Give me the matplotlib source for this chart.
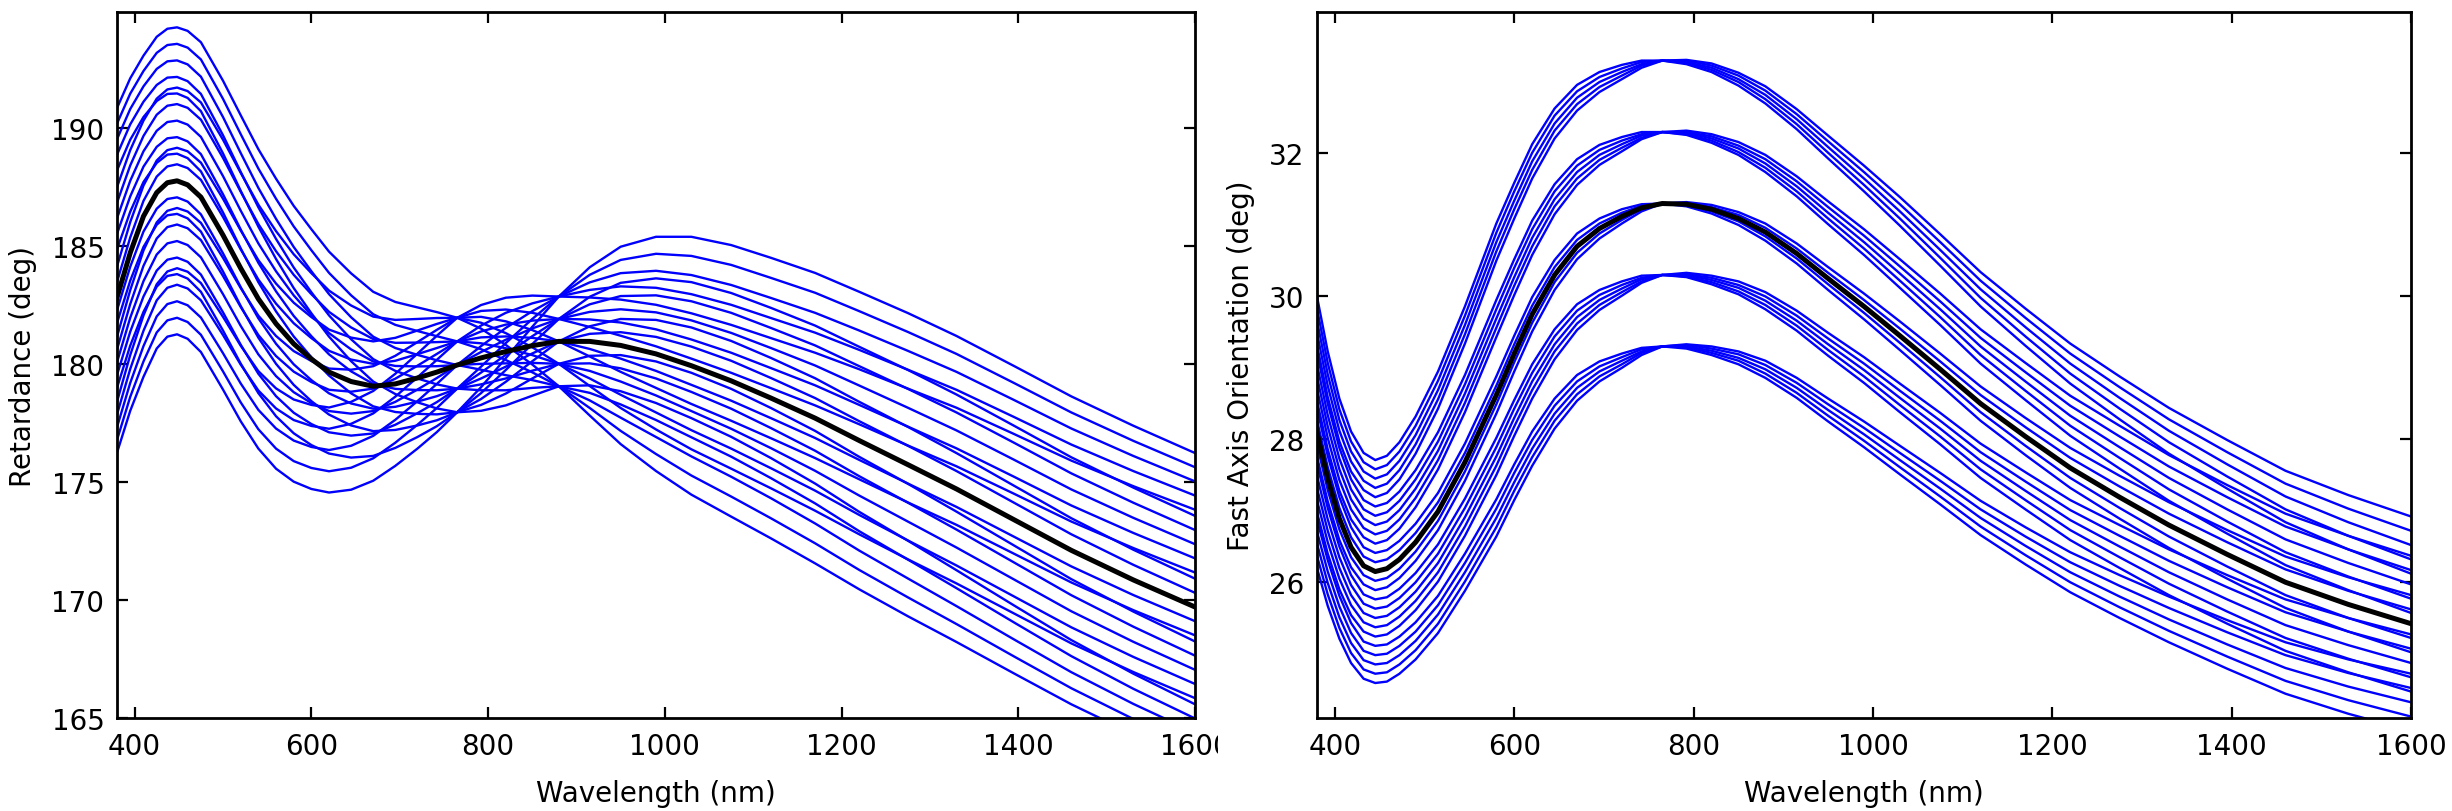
import matplotlib
matplotlib.use('Agg')
import matplotlib.pyplot as plt
from matplotlib.patches import Rectangle

# ---------------- left panel: retardance ----------------
wl_ret = [380, 395, 410, 425, 437, 448, 460, 475, 500, 520, 540, 560, 580, 600,
          620, 645, 670, 695, 720, 742, 765, 792, 820, 850, 880, 915, 950, 990,
          1030, 1075, 1120, 1170, 1220, 1275, 1330, 1395, 1460, 1530, 1600]

retardance_nominal = [182.80, 184.70, 186.25, 187.25, 187.67, 187.75, 187.58, 187.06, 185.45, 184.05,
                      182.75, 181.70, 180.85, 180.20, 179.65, 179.25, 179.05, 179.15, 179.40, 179.65,
                      179.95, 180.25, 180.52, 180.77, 180.95, 180.95, 180.78, 180.42, 179.92, 179.28,
                      178.55, 177.70, 176.75, 175.73, 174.70, 173.40, 172.10, 170.85, 169.70]

retardance_curves = [
    [178.39, 180.37, 182.05, 183.37, 183.91, 184.05, 183.90, 183.42, 181.99, 180.77, 179.69, 178.96, 178.49, 178.26, 178.15, 178.39, 178.85, 179.58, 180.43, 181.19, 181.95, 182.49, 182.80, 182.89, 182.85, 182.81, 182.72, 182.50, 182.14, 181.65, 181.09, 180.47, 179.77, 178.95, 178.14, 177.03, 175.90, 174.82, 173.82],
    [181.14, 183.12, 184.80, 185.99, 186.48, 186.60, 186.45, 185.97, 184.49, 183.21, 182.04, 181.18, 180.54, 180.12, 179.80, 179.75, 179.90, 180.34, 180.92, 181.44, 181.95, 182.24, 182.30, 182.16, 181.90, 181.56, 181.19, 180.74, 180.22, 179.62, 178.97, 178.24, 177.44, 176.54, 175.66, 174.50, 173.32, 172.20, 171.16],
    [184.12, 186.00, 187.55, 188.61, 189.05, 189.15, 189.00, 188.52, 186.99, 185.65, 184.39, 183.40, 182.59, 181.98, 181.45, 181.11, 180.95, 181.10, 181.41, 181.69, 181.95, 181.99, 181.80, 181.43, 180.95, 180.31, 179.66, 178.98, 178.30, 177.59, 176.85, 176.01, 175.11, 174.13, 173.18, 171.96, 170.74, 169.57, 168.50],
    [187.48, 189.05, 190.30, 191.23, 191.62, 191.70, 191.55, 191.07, 189.49, 188.09, 186.74, 185.62, 184.64, 183.84, 183.10, 182.47, 182.00, 181.86, 181.90, 181.94, 181.95, 181.74, 181.30, 180.70, 180.00, 179.06, 178.13, 177.22, 176.38, 175.56, 174.73, 173.78, 172.78, 171.72, 170.70, 169.43, 168.16, 166.95, 165.84],
    [190.83, 192.09, 193.05, 193.85, 194.19, 194.25, 194.10, 193.62, 191.99, 190.53, 189.09, 187.84, 186.69, 185.70, 184.75, 183.83, 183.05, 182.62, 182.39, 182.19, 181.95, 181.49, 180.80, 179.97, 179.05, 177.81, 176.60, 175.46, 174.46, 173.53, 172.61, 171.55, 170.45, 169.31, 168.22, 166.89, 165.58, 164.32, 163.18],
    [177.85, 179.78, 181.40, 182.69, 183.22, 183.35, 183.19, 182.69, 181.22, 179.97, 178.87, 178.11, 177.62, 177.37, 177.25, 177.46, 177.90, 178.61, 179.43, 180.17, 180.95, 181.62, 182.16, 182.56, 182.85, 183.13, 183.28, 183.22, 182.95, 182.50, 181.94, 181.32, 180.59, 179.75, 178.90, 177.75, 176.58, 175.46, 174.42],
    [180.60, 182.53, 184.15, 185.31, 185.79, 185.90, 185.74, 185.24, 183.72, 182.41, 181.22, 180.33, 179.67, 179.23, 178.90, 178.82, 178.95, 179.37, 179.92, 180.42, 180.95, 181.37, 181.66, 181.83, 181.90, 181.88, 181.75, 181.46, 181.03, 180.47, 179.82, 179.09, 178.26, 177.34, 176.42, 175.22, 174.00, 172.84, 171.76],
    [183.46, 185.35, 186.90, 187.93, 188.36, 188.45, 188.29, 187.79, 186.22, 184.85, 183.57, 182.55, 181.72, 181.09, 180.55, 180.18, 180.00, 180.13, 180.41, 180.67, 180.95, 181.12, 181.16, 181.10, 180.95, 180.63, 180.22, 179.70, 179.11, 178.44, 177.70, 176.86, 175.93, 174.93, 173.94, 172.68, 171.42, 170.21, 169.10],
    [186.82, 188.40, 189.65, 190.55, 190.93, 191.00, 190.84, 190.34, 188.72, 187.29, 185.92, 184.77, 183.77, 182.95, 182.20, 181.54, 181.05, 180.89, 180.90, 180.92, 180.95, 180.87, 180.66, 180.37, 180.00, 179.38, 178.69, 177.94, 177.19, 176.41, 175.58, 174.63, 173.60, 172.52, 171.46, 170.15, 168.84, 167.59, 166.44],
    [190.17, 191.44, 192.40, 193.17, 193.50, 193.55, 193.39, 192.89, 191.22, 189.73, 188.27, 186.99, 185.82, 184.81, 183.85, 182.90, 182.10, 181.65, 181.39, 181.17, 180.95, 180.62, 180.16, 179.64, 179.05, 178.13, 177.16, 176.18, 175.27, 174.38, 173.46, 172.40, 171.27, 170.11, 168.98, 167.61, 166.26, 164.96, 163.78],
    [177.31, 179.19, 180.75, 182.01, 182.53, 182.65, 182.48, 181.96, 180.45, 179.17, 178.05, 177.26, 176.75, 176.48, 176.35, 176.53, 176.95, 177.63, 178.42, 179.15, 179.95, 180.75, 181.52, 182.23, 182.85, 183.45, 183.84, 183.94, 183.76, 183.34, 182.79, 182.16, 181.41, 180.55, 179.66, 178.47, 177.26, 176.10, 175.02],
    [180.06, 181.95, 183.50, 184.63, 185.10, 185.20, 185.03, 184.51, 182.95, 181.61, 180.40, 179.48, 178.80, 178.34, 178.00, 177.89, 178.00, 178.39, 178.91, 179.40, 179.95, 180.50, 181.02, 181.50, 181.90, 182.20, 182.31, 182.18, 181.84, 181.31, 180.67, 179.93, 179.08, 178.14, 177.18, 175.94, 174.68, 173.48, 172.36],
    [186.16, 187.75, 189.00, 189.87, 190.24, 190.30, 190.13, 189.61, 187.95, 186.49, 185.10, 183.92, 182.90, 182.06, 181.30, 180.61, 180.10, 179.91, 179.89, 179.90, 179.95, 180.00, 180.02, 180.04, 180.00, 179.70, 179.25, 178.66, 178.00, 177.25, 176.43, 175.47, 174.42, 173.32, 172.22, 170.87, 169.52, 168.23, 167.04],
    [189.51, 190.79, 191.75, 192.49, 192.81, 192.85, 192.68, 192.16, 190.45, 188.93, 187.45, 186.14, 184.95, 183.92, 182.95, 181.97, 181.15, 180.67, 180.38, 180.15, 179.95, 179.75, 179.52, 179.31, 179.05, 178.45, 177.72, 176.90, 176.08, 175.22, 174.31, 173.24, 172.09, 170.91, 169.74, 168.33, 166.94, 165.60, 164.38],
    [176.77, 178.60, 180.10, 181.33, 181.84, 181.95, 181.77, 181.23, 179.68, 178.37, 177.23, 176.41, 175.88, 175.59, 175.45, 175.60, 176.00, 176.66, 177.42, 178.13, 178.95, 179.88, 180.88, 181.90, 182.85, 183.77, 184.40, 184.66, 184.57, 184.19, 183.64, 183.01, 182.23, 181.35, 180.42, 179.19, 177.94, 176.74, 175.62],
    [179.52, 181.36, 182.85, 183.95, 184.41, 184.50, 184.32, 183.78, 182.18, 180.81, 179.58, 178.63, 177.93, 177.45, 177.10, 176.96, 177.05, 177.42, 177.91, 178.38, 178.95, 179.63, 180.38, 181.17, 181.90, 182.52, 182.87, 182.90, 182.65, 182.16, 181.52, 180.78, 179.90, 178.94, 177.94, 176.66, 175.36, 174.12, 172.96],
    [182.26, 184.11, 185.60, 186.57, 186.98, 187.05, 186.87, 186.33, 184.68, 183.25, 181.93, 180.85, 179.98, 179.31, 178.75, 178.32, 178.10, 178.18, 178.40, 178.63, 178.95, 179.38, 179.88, 180.44, 180.95, 181.27, 181.34, 181.14, 180.73, 180.13, 179.40, 178.55, 177.57, 176.53, 175.46, 174.12, 172.78, 171.49, 170.30],
    [185.50, 187.09, 188.35, 189.19, 189.55, 189.60, 189.42, 188.88, 187.18, 185.69, 184.28, 183.07, 182.03, 181.17, 180.40, 179.68, 179.15, 178.94, 178.89, 178.88, 178.95, 179.13, 179.38, 179.71, 180.00, 180.02, 179.81, 179.38, 178.81, 178.10, 177.28, 176.32, 175.24, 174.12, 172.98, 171.59, 170.20, 168.87, 167.64],
    [188.85, 190.14, 191.10, 191.81, 192.12, 192.15, 191.97, 191.43, 189.68, 188.13, 186.63, 185.29, 184.08, 183.03, 182.05, 181.04, 180.20, 179.70, 179.38, 179.13, 178.95, 178.88, 178.88, 178.98, 179.05, 178.77, 178.28, 177.62, 176.89, 176.07, 175.16, 174.09, 172.91, 171.71, 170.50, 169.05, 167.62, 166.24, 164.98],
    [176.23, 178.01, 179.45, 180.65, 181.15, 181.25, 181.06, 180.50, 178.91, 177.57, 176.41, 175.56, 175.01, 174.70, 174.55, 174.67, 175.05, 175.68, 176.41, 177.11, 177.95, 179.01, 180.24, 181.57, 182.85, 184.09, 184.96, 185.38, 185.38, 185.03, 184.49, 183.85, 183.05, 182.15, 181.18, 179.91, 178.62, 177.38, 176.22],
    [178.98, 180.77, 182.20, 183.27, 183.72, 183.80, 183.61, 183.05, 181.41, 180.01, 178.76, 177.78, 177.06, 176.56, 176.20, 176.03, 176.10, 176.44, 176.90, 177.36, 177.95, 178.76, 179.74, 180.84, 181.90, 182.84, 183.43, 183.62, 183.46, 183.00, 182.37, 181.62, 180.72, 179.74, 178.70, 177.38, 176.04, 174.76, 173.56],
    [181.72, 183.52, 184.95, 185.89, 186.29, 186.35, 186.16, 185.60, 183.91, 182.45, 181.11, 180.00, 179.11, 178.42, 177.85, 177.39, 177.15, 177.20, 177.39, 177.61, 177.95, 178.51, 179.24, 180.11, 180.95, 181.59, 181.90, 181.86, 181.54, 180.97, 180.25, 179.39, 178.39, 177.33, 176.22, 174.84, 173.46, 172.13, 170.90],
    [184.84, 186.44, 187.70, 188.51, 188.86, 188.90, 188.71, 188.15, 186.41, 184.89, 183.46, 182.22, 181.16, 180.28, 179.50, 178.75, 178.20, 177.96, 177.88, 177.86, 177.95, 178.26, 178.74, 179.38, 180.00, 180.34, 180.37, 180.10, 179.62, 178.94, 178.13, 177.16, 176.06, 174.92, 173.74, 172.31, 170.88, 169.51, 168.24],
    [188.19, 189.49, 190.45, 191.13, 191.43, 191.45, 191.26, 190.70, 188.91, 187.33, 185.81, 184.44, 183.21, 182.14, 181.15, 180.11, 179.25, 178.72, 178.37, 178.11, 177.95, 178.01, 178.24, 178.65, 179.05, 179.09, 178.84, 178.34, 177.70, 176.91, 176.01, 174.93, 173.73, 172.51, 171.26, 169.77, 168.30, 166.88, 165.58],
]

# ---------------- right panel: fast axis orientation ----------------
wl_fa = [380, 392, 405, 418, 432, 445, 458, 472, 490, 515, 545, 580, 600, 620,
         645, 670, 695, 720, 742, 765, 792, 820, 850, 880, 915, 950, 990, 1030,
         1075, 1120, 1170, 1220, 1275, 1330, 1395, 1460, 1530, 1600]

fast_axis_nominal = [28.10, 27.45, 26.89, 26.49, 26.23, 26.15, 26.19, 26.32, 26.56, 26.99,
                     27.68, 28.62, 29.20, 29.75, 30.30, 30.70, 30.95, 31.12, 31.24, 31.30,
                     31.29, 31.22, 31.09, 30.90, 30.60, 30.25, 29.86, 29.45, 28.98, 28.50,
                     28.04, 27.60, 27.19, 26.80, 26.39, 26.00, 25.69, 25.42]

fast_axis_curves = [
    [30.00, 29.23, 28.57, 28.11, 27.81, 27.71, 27.77, 27.96, 28.32, 28.95, 29.86, 31.02, 31.59, 32.13, 32.63, 32.96, 33.14, 33.24, 33.30, 33.30, 33.25, 33.14, 32.95, 32.70, 32.34, 31.93, 31.47, 30.99, 30.43, 29.86, 29.31, 28.78, 28.28, 27.80, 27.31, 26.84, 26.46, 26.12],
    [29.83, 29.07, 28.42, 27.97, 27.68, 27.58, 27.64, 27.83, 28.19, 28.82, 29.73, 30.89, 31.47, 32.01, 32.53, 32.87, 33.07, 33.19, 33.28, 33.30, 33.27, 33.17, 33.00, 32.76, 32.41, 32.01, 31.56, 31.09, 30.54, 29.98, 29.44, 28.92, 28.43, 27.96, 27.48, 27.02, 26.65, 26.32],
    [29.66, 28.91, 28.27, 27.83, 27.55, 27.45, 27.51, 27.70, 28.06, 28.69, 29.60, 30.76, 31.34, 31.89, 32.42, 32.78, 33.00, 33.14, 33.25, 33.30, 33.28, 33.20, 33.04, 32.82, 32.48, 32.09, 31.65, 31.19, 30.65, 30.10, 29.57, 29.06, 28.58, 28.12, 27.65, 27.20, 26.84, 26.52],
    [29.49, 28.75, 28.12, 27.69, 27.42, 27.32, 27.38, 27.57, 27.93, 28.56, 29.47, 30.63, 31.22, 31.77, 32.32, 32.69, 32.93, 33.09, 33.23, 33.30, 33.30, 33.23, 33.09, 32.88, 32.55, 32.17, 31.74, 31.29, 30.76, 30.22, 29.70, 29.20, 28.73, 28.28, 27.82, 27.38, 27.03, 26.72],
    [29.32, 28.59, 27.97, 27.55, 27.29, 27.19, 27.25, 27.44, 27.80, 28.43, 29.34, 30.50, 31.09, 31.65, 32.21, 32.60, 32.86, 33.04, 33.20, 33.30, 33.31, 33.26, 33.13, 32.94, 32.62, 32.25, 31.83, 31.39, 30.87, 30.34, 29.83, 29.34, 28.88, 28.44, 27.99, 27.56, 27.22, 26.92],
    [29.22, 28.50, 27.88, 27.44, 27.15, 27.06, 27.11, 27.27, 27.57, 28.10, 28.90, 29.95, 30.52, 31.06, 31.57, 31.92, 32.12, 32.23, 32.30, 32.30, 32.26, 32.15, 31.98, 31.74, 31.40, 31.01, 30.58, 30.12, 29.60, 29.06, 28.55, 28.05, 27.59, 27.14, 26.68, 26.24, 25.89, 25.57],
    [29.05, 28.34, 27.73, 27.30, 27.02, 26.93, 26.98, 27.14, 27.44, 27.97, 28.77, 29.82, 30.40, 30.94, 31.47, 31.83, 32.05, 32.18, 32.27, 32.30, 32.27, 32.18, 32.02, 31.80, 31.47, 31.09, 30.67, 30.22, 29.71, 29.18, 28.68, 28.19, 27.74, 27.30, 26.85, 26.42, 26.08, 25.77],
    [28.88, 28.18, 27.58, 27.16, 26.89, 26.80, 26.85, 27.01, 27.31, 27.84, 28.64, 29.69, 30.27, 30.82, 31.36, 31.74, 31.98, 32.13, 32.25, 32.30, 32.29, 32.21, 32.07, 31.86, 31.54, 31.17, 30.76, 30.32, 29.82, 29.30, 28.81, 28.33, 27.89, 27.46, 27.02, 26.60, 26.27, 25.97],
    [28.71, 28.02, 27.43, 27.02, 26.76, 26.67, 26.72, 26.88, 27.18, 27.71, 28.51, 29.56, 30.15, 30.70, 31.26, 31.65, 31.91, 32.08, 32.22, 32.30, 32.30, 32.24, 32.11, 31.92, 31.61, 31.25, 30.85, 30.42, 29.93, 29.42, 28.94, 28.47, 28.04, 27.62, 27.19, 26.78, 26.46, 26.17],
    [28.54, 27.86, 27.28, 26.88, 26.63, 26.54, 26.59, 26.75, 27.05, 27.58, 28.38, 29.43, 30.02, 30.58, 31.15, 31.56, 31.84, 32.03, 32.20, 32.30, 32.32, 32.27, 32.16, 31.98, 31.68, 31.33, 30.94, 30.52, 30.04, 29.54, 29.07, 28.61, 28.19, 27.78, 27.36, 26.96, 26.65, 26.37],
    [28.44, 27.77, 27.19, 26.77, 26.49, 26.41, 26.45, 26.58, 26.82, 27.25, 27.94, 28.88, 29.45, 29.99, 30.51, 30.88, 31.09, 31.22, 31.29, 31.30, 31.26, 31.16, 31.00, 30.78, 30.46, 30.09, 29.68, 29.25, 28.76, 28.26, 27.78, 27.32, 26.89, 26.48, 26.05, 25.64, 25.31, 25.02],
    [28.27, 27.61, 27.04, 26.63, 26.36, 26.28, 26.32, 26.45, 26.69, 27.12, 27.81, 28.75, 29.33, 29.87, 30.41, 30.79, 31.02, 31.17, 31.27, 31.30, 31.28, 31.19, 31.05, 30.84, 30.53, 30.17, 29.77, 29.35, 28.87, 28.38, 27.91, 27.46, 27.04, 26.64, 26.22, 25.82, 25.50, 25.22],
    [27.93, 27.29, 26.74, 26.35, 26.10, 26.02, 26.06, 26.19, 26.43, 26.86, 27.55, 28.49, 29.08, 29.63, 30.20, 30.61, 30.88, 31.07, 31.22, 31.30, 31.31, 31.25, 31.14, 30.96, 30.67, 30.33, 29.95, 29.55, 29.09, 28.62, 28.17, 27.74, 27.34, 26.96, 26.56, 26.18, 25.88, 25.62],
    [27.76, 27.13, 26.59, 26.21, 25.97, 25.89, 25.93, 26.06, 26.30, 26.73, 27.42, 28.36, 28.95, 29.51, 30.09, 30.52, 30.81, 31.02, 31.19, 31.30, 31.32, 31.28, 31.18, 31.02, 30.74, 30.41, 30.04, 29.65, 29.20, 28.74, 28.30, 27.88, 27.49, 27.12, 26.73, 26.36, 26.07, 25.82],
    [27.66, 27.04, 26.50, 26.10, 25.83, 25.76, 25.79, 25.91, 26.13, 26.53, 27.17, 28.02, 28.55, 29.05, 29.54, 29.89, 30.09, 30.21, 30.29, 30.30, 30.27, 30.17, 30.03, 29.82, 29.52, 29.17, 28.79, 28.38, 27.93, 27.46, 27.02, 26.59, 26.20, 25.82, 25.42, 25.04, 24.74, 24.47],
    [27.49, 26.88, 26.35, 25.96, 25.70, 25.63, 25.66, 25.78, 26.00, 26.40, 27.04, 27.89, 28.43, 28.93, 29.44, 29.80, 30.02, 30.16, 30.26, 30.30, 30.28, 30.20, 30.07, 29.88, 29.59, 29.25, 28.88, 28.48, 28.04, 27.58, 27.15, 26.73, 26.35, 25.98, 25.59, 25.22, 24.93, 24.67],
    [27.32, 26.72, 26.20, 25.82, 25.57, 25.50, 25.53, 25.65, 25.87, 26.27, 26.91, 27.76, 28.30, 28.81, 29.33, 29.71, 29.95, 30.11, 30.24, 30.30, 30.30, 30.23, 30.12, 29.94, 29.66, 29.33, 28.97, 28.58, 28.15, 27.70, 27.28, 26.87, 26.50, 26.14, 25.76, 25.40, 25.12, 24.87],
    [27.15, 26.56, 26.05, 25.68, 25.44, 25.37, 25.40, 25.52, 25.74, 26.14, 26.78, 27.63, 28.18, 28.69, 29.23, 29.62, 29.88, 30.06, 30.21, 30.30, 30.31, 30.26, 30.16, 30.00, 29.73, 29.41, 29.06, 28.68, 28.26, 27.82, 27.41, 27.01, 26.65, 26.30, 25.93, 25.58, 25.31, 25.07],
    [26.98, 26.40, 25.90, 25.54, 25.31, 25.24, 25.27, 25.39, 25.61, 26.01, 26.65, 27.50, 28.05, 28.57, 29.12, 29.53, 29.81, 30.01, 30.19, 30.30, 30.33, 30.29, 30.21, 30.06, 29.80, 29.49, 29.15, 28.78, 28.37, 27.94, 27.54, 27.15, 26.80, 26.46, 26.10, 25.76, 25.50, 25.27],
    [26.88, 26.31, 25.81, 25.43, 25.17, 25.11, 25.13, 25.24, 25.44, 25.81, 26.40, 27.16, 27.65, 28.11, 28.57, 28.90, 29.09, 29.20, 29.28, 29.30, 29.27, 29.18, 29.05, 28.86, 28.58, 28.25, 27.89, 27.51, 27.09, 26.66, 26.25, 25.86, 25.50, 25.16, 24.79, 24.44, 24.16, 23.92],
    [26.71, 26.15, 25.66, 25.29, 25.04, 24.98, 25.00, 25.11, 25.31, 25.68, 26.27, 27.03, 27.53, 27.99, 28.47, 28.81, 29.02, 29.15, 29.26, 29.30, 29.29, 29.21, 29.10, 28.92, 28.65, 28.33, 27.98, 27.61, 27.20, 26.78, 26.38, 26.00, 25.65, 25.32, 24.96, 24.62, 24.35, 24.12],
    [26.54, 25.99, 25.51, 25.15, 24.91, 24.85, 24.87, 24.98, 25.18, 25.55, 26.14, 26.90, 27.40, 27.87, 28.36, 28.72, 28.95, 29.10, 29.23, 29.30, 29.30, 29.24, 29.14, 28.98, 28.72, 28.41, 28.07, 27.71, 27.31, 26.90, 26.51, 26.14, 25.80, 25.48, 25.13, 24.80, 24.54, 24.32],
    [26.37, 25.83, 25.36, 25.01, 24.78, 24.72, 24.74, 24.85, 25.05, 25.42, 26.01, 26.77, 27.28, 27.75, 28.26, 28.63, 28.88, 29.05, 29.21, 29.30, 29.32, 29.27, 29.19, 29.04, 28.79, 28.49, 28.16, 27.81, 27.42, 27.02, 26.64, 26.28, 25.95, 25.64, 25.30, 24.98, 24.73, 24.52],
    [26.20, 25.67, 25.21, 24.87, 24.65, 24.59, 24.61, 24.72, 24.92, 25.29, 25.88, 26.64, 27.15, 27.63, 28.15, 28.54, 28.81, 29.00, 29.18, 29.30, 29.33, 29.30, 29.23, 29.10, 28.86, 28.57, 28.25, 27.91, 27.53, 27.14, 26.77, 26.42, 26.10, 25.80, 25.47, 25.16, 24.92, 24.72],
]

plt.rcParams['font.family'] = 'DejaVu Sans'
plt.rcParams['font.size'] = 10

fig = plt.figure(figsize=(12.26, 4.06), dpi=200)
ax1 = fig.add_axes([0.0477, 0.1145, 0.4397, 0.8695])
ax2 = fig.add_axes([0.5371, 0.1145, 0.4462, 0.8695])

# retardance
for curve in retardance_curves:
    ax1.plot(wl_ret, curve, color='b', linewidth=0.85)
ax1.plot(wl_ret, retardance_nominal, color='k', linewidth=1.8)
ax1.set_xlim(380, 1600)
ax1.set_ylim(165, 194.9)
ax1.set_yticks([165, 170, 175, 180, 185, 190])
ax1.set_xlabel('Wavelength (nm)', labelpad=7)
ax1.set_ylabel('Retardance (deg)', labelpad=5)

# fast axis orientation
for curve in fast_axis_curves:
    ax2.plot(wl_fa, curve, color='b', linewidth=0.85)
ax2.plot(wl_fa, fast_axis_nominal, color='k', linewidth=1.8)
ax2.set_xlim(380, 1600)
ax2.set_ylim(24.1, 33.98)
ax2.set_yticks([26, 28, 30, 32])
ax2.set_xlabel('Wavelength (nm)', labelpad=7)
ax2.set_ylabel('Fast Axis Orientation (deg)', labelpad=5)

for ax in (ax1, ax2):
    ax.set_xticks([400, 600, 800, 1000, 1200, 1400, 1600])
    ax.tick_params(direction='in', top=True, right=True, length=4, width=0.8,
                   labelsize=10)
    ax.tick_params(axis='x', pad=5)
    ax.tick_params(axis='y', pad=4.5)
    for sp in ax.spines.values():
        sp.set_linewidth(1.0)

# the left figure was cropped right through its last tick label
fig.add_artist(Rectangle((1218 / 2452, 0.045), 20 / 2452, 0.066,
                         transform=fig.transFigure, facecolor='white',
                         edgecolor='none', zorder=10))

fig.savefig('out.png', dpi=200, facecolor='white')
